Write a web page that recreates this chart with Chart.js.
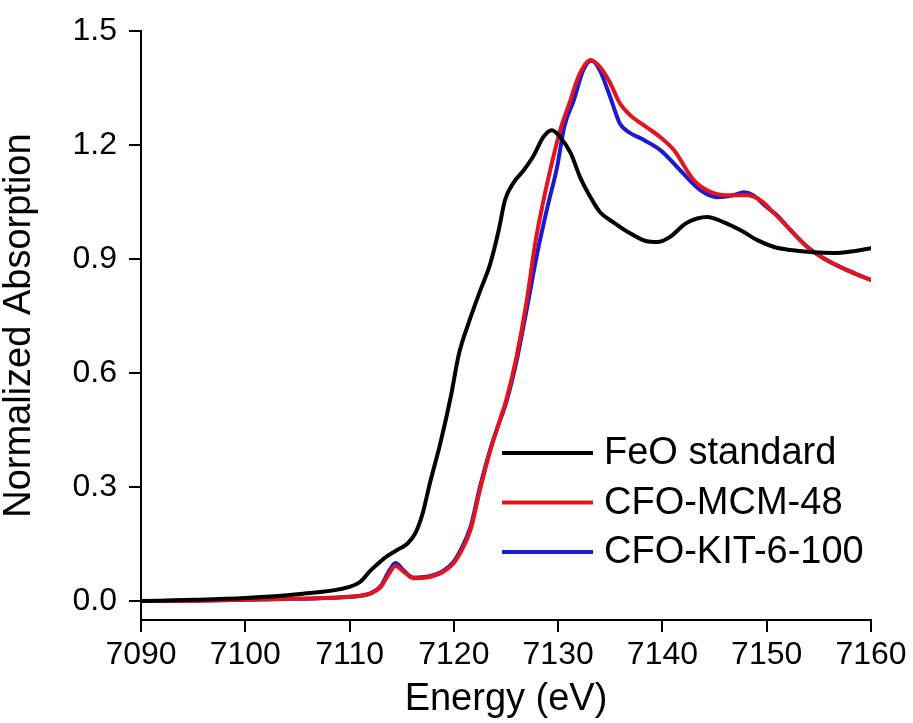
<!DOCTYPE html>
<html>
<head>
<meta charset="utf-8">
<script src="https://cdn.jsdelivr.net/npm/chart.js@4.4.1/dist/chart.umd.min.js"></script>
<style>
    html, body { margin: 0; padding: 0; background: #fff; }
    #wrap { width: 913px; height: 723px; }
</style>
</head>
<body>
<div id="wrap"><canvas id="xanesChart" width="913" height="723"></canvas></div>
<script>
// Data (energi dalam eV, absorpsi ternormalisasi)
const feoE = [7090, 7095, 7100, 7105, 7110, 7111, 7112, 7112.8, 7113.6, 7114.6, 7115.5, 7116.3, 7117, 7117.7, 7118.7, 7119.7, 7120.5, 7121.4, 7122.5, 7123.5, 7124.3, 7124.9, 7125.7, 7126.7, 7127.6, 7128.6, 7129.4, 7130.2, 7131.2, 7132.1, 7133.1, 7134.0, 7135.3, 7136.9, 7138.5, 7139.5, 7140.7, 7142.3, 7144.3, 7145.9, 7147.5, 7149.1, 7150.7, 7152.3, 7154.5, 7156.4, 7158.3, 7160];
const feoY = [0.0, 0.003, 0.008, 0.018, 0.037, 0.05, 0.08, 0.10, 0.118, 0.135, 0.15, 0.178, 0.23, 0.31, 0.415, 0.537, 0.652, 0.731, 0.815, 0.889, 0.976, 1.055, 1.10, 1.134, 1.17, 1.222, 1.239, 1.221, 1.179, 1.116, 1.063, 1.024, 0.997, 0.968, 0.947, 0.945, 0.958, 0.995, 1.011, 0.997, 0.976, 0.95, 0.932, 0.924, 0.918, 0.916, 0.921, 0.929];

const mcmE = [7090, 7095, 7100, 7105, 7110, 7112, 7113, 7113.7, 7114.4, 7115.2, 7116.1, 7117.4, 7119, 7120, 7120.6, 7121.6, 7122.5, 7123.5, 7124.1, 7125.1, 7126.0, 7127.0, 7127.8, 7128.6, 7129.4, 7130.2, 7131.2, 7131.8, 7132.4, 7133.1, 7134.0, 7135.0, 7135.9, 7136.9, 7138.5, 7139.8, 7141.1, 7143.0, 7144.9, 7146.8, 7148.1, 7149.4, 7150.7, 7152.3, 7153.9, 7155.4, 7157.7, 7160];
const mcmY = [0, 0.001, 0.003, 0.006, 0.011, 0.02, 0.037, 0.068, 0.092, 0.077, 0.06, 0.062, 0.077, 0.1, 0.126, 0.187, 0.292, 0.397, 0.45, 0.537, 0.642, 0.792, 0.942, 1.055, 1.153, 1.24, 1.32, 1.37, 1.405, 1.424, 1.406, 1.363, 1.311, 1.279, 1.247, 1.221, 1.187, 1.108, 1.074, 1.068, 1.068, 1.055, 1.021, 0.976, 0.932, 0.903, 0.871, 0.845];

const kitE = [7090, 7095, 7100, 7105, 7110, 7112, 7113, 7113.7, 7114.4, 7115.2, 7116.1, 7117.4, 7119, 7120, 7120.6, 7121.6, 7122.5, 7123.5, 7124.1, 7125.1, 7126.0, 7127.0, 7128.0, 7129.0, 7129.9, 7130.6, 7131.5, 7132.4, 7133.2, 7134.0, 7135.0, 7135.9, 7136.9, 7137.9, 7139.8, 7141.7, 7143.6, 7145.2, 7146.8, 7147.8, 7148.7, 7150.0, 7151.0, 7152.3, 7153.9, 7155.4, 7157.7, 7160];
const kitY = [0, 0.001, 0.003, 0.006, 0.011, 0.02, 0.04, 0.075, 0.1, 0.08, 0.062, 0.064, 0.08, 0.104, 0.132, 0.195, 0.30, 0.40, 0.45, 0.53, 0.63, 0.77, 0.916, 1.04, 1.142, 1.25, 1.318, 1.397, 1.422, 1.397, 1.326, 1.258, 1.232, 1.218, 1.187, 1.134, 1.082, 1.063, 1.068, 1.076, 1.068, 1.037, 1.015, 0.976, 0.932, 0.903, 0.871, 0.845];

const seriesNames = ['FeO standard', 'CFO-MCM-48', 'CFO-KIT-6-100'];
const xTicks = [7090, 7100, 7110, 7120, 7130, 7140, 7150, 7160];
const yTicks = [0.0, 0.3, 0.6, 0.9, 1.2, 1.5];

// gabungkan array x dan y jadi titik
function toPoints(xs, ys) {
    return xs.map((x, i) => ({ x: x, y: ys[i] }));
}

const FONT = "'Liberation Sans', Arial, sans-serif";

// Legenda di dalam area plot (kanan bawah)
const insideLegend = {
    id: 'insideLegend',
    afterDraw(chart) {
        const ctx = chart.ctx;
        const items = chart.data.datasets;
        ctx.save();
        ctx.font = '38px ' + FONT;
        ctx.textBaseline = 'middle';
        ctx.textAlign = 'left';
        items.forEach((ds, i) => {
            const y = 453 + i * 49.5;
            ctx.strokeStyle = ds.borderColor;
            ctx.lineWidth = 4;
            ctx.beginPath();
            ctx.moveTo(502, y);
            ctx.lineTo(593, y);
            ctx.stroke();
            ctx.fillStyle = '#000';
            ctx.fillText(ds.label, 604, y + 1);
        });
        ctx.restore();
    }
};

const ctx = document.getElementById('xanesChart').getContext('2d');
const xanesChart = new Chart(ctx, {
    type: 'line',
    data: {
        datasets: [{
            label: seriesNames[0],
            data: toPoints(feoE, feoY),
            borderColor: '#000000',
            borderWidth: 4,
        }, {
            label: seriesNames[1],
            data: toPoints(mcmE, mcmY),
            borderColor: '#e3141c',
            borderWidth: 4,
        }, {
            label: seriesNames[2],
            data: toPoints(kitE, kitY),
            borderColor: '#1a1ad2',
            borderWidth: 4,
        }],
    },
    options: {
        responsive: false,
        animation: false,
        devicePixelRatio: 1,
        cubicInterpolationMode: 'monotone',
        elements: {
            point: { radius: 0 },
            line: { fill: false, borderCapStyle: 'round', borderJoinStyle: 'round' },
        },
        layout: { padding: { top: 31, right: 42, left: 0, bottom: 0 } },
        plugins: {
            legend: { display: false },
            tooltip: { enabled: false },
        },
        scales: {
            x: {
                type: 'linear',
                min: 7090,
                max: 7160,
                afterFit: (scale) => { scale.height = 103; },
                afterBuildTicks: (scale) => { scale.ticks = xTicks.map(v => ({ value: v })); },
                border: { display: true, color: '#000', width: 2 },
                grid: { display: true, drawOnChartArea: false, drawTicks: true, tickLength: 12, color: '#000', lineWidth: 2 },
                ticks: {
                    autoSkip: false,
                    maxRotation: 0,
                    padding: 4,
                    color: '#000',
                    font: { family: FONT, size: 32 },
                    callback: (v) => String(v),
                },
                title: {
                    display: true,
                    text: 'Energy (eV)',
                    color: '#000',
                    font: { family: FONT, size: 38, lineHeight: 1 },
                    padding: { top: 0, bottom: 4 },
                },
            },
            y: {
                type: 'linear',
                min: -0.05,
                max: 1.5,
                afterFit: (scale) => { scale.width = 141; },
                afterBuildTicks: (scale) => { scale.ticks = yTicks.map(v => ({ value: v })); },
                border: { display: true, color: '#000', width: 2 },
                grid: { display: true, drawOnChartArea: false, drawTicks: true, tickLength: 12, color: '#000', lineWidth: 2 },
                ticks: {
                    padding: 12,
                    color: '#000',
                    font: { family: FONT, size: 32 },
                    callback: (v) => Number(v).toFixed(1),
                },
                title: {
                    display: true,
                    text: 'Normalized Absorption',
                    color: '#000',
                    font: { family: FONT, size: 38, lineHeight: 1 },
                    padding: { top: 1, bottom: 0 },
                },
            },
        },
    },
    plugins: [insideLegend],
});
</script>
</body>
</html>
